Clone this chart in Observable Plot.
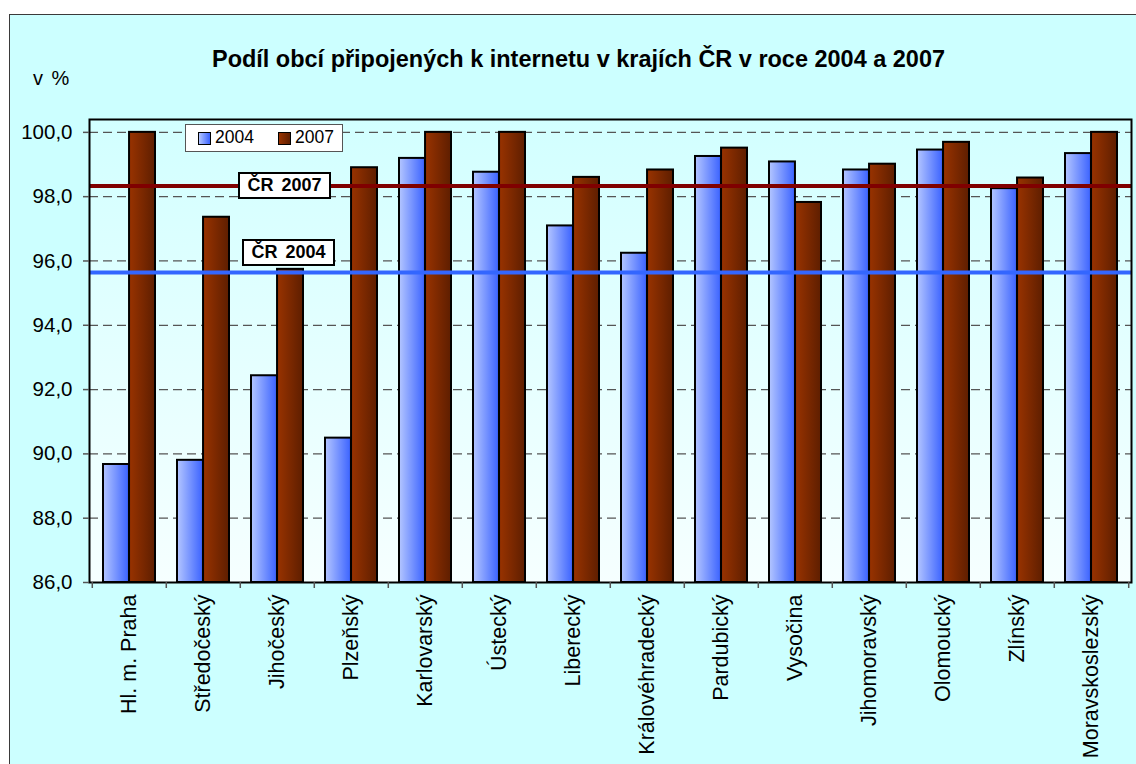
<!DOCTYPE html>
<html>
<head>
<meta charset="utf-8">
<script src="https://cdn.jsdelivr.net/npm/d3@7"></script>
<script src="https://cdn.jsdelivr.net/npm/@observablehq/plot@0.6"></script>
<style>
  body { margin: 0; background: #fff; font-family: "Liberation Sans", Arial, sans-serif; }
  #wrap { position: relative; width: 1136px; height: 764px; overflow: hidden; background: #fff; }
  #panel { position: absolute; left: 9px; top: 14px; width: 1150px; height: 770px; background: #ccffff; border: 1.5px solid #3a3a3a; box-sizing: border-box; }
  #chart { position: absolute; left: 0; top: 0; }
  .ov { position: absolute; white-space: nowrap; color: #000; }
  #title { left: 0; width: 1157px; top: 46px; text-align: center; font-weight: bold; font-size: 19px; }
  #unit { left: 33px; top: 67px; font-size: 20px; word-spacing: 3px; }
  #legend { left: 185px; top: 124px; width: 158px; height: 28px; background: #fff; border: 1px solid #555; box-sizing: border-box; }
  .sw { position: absolute; width: 13px; height: 13px; border: 1.5px solid #000; box-sizing: border-box; }
  .lt { position: absolute; font-size: 17.5px; top: 2px; }
  .ref { position: absolute; background: #fff; border: 2px solid #000; box-sizing: border-box; font-weight: bold; font-size: 18px; text-align: center; width: 93px; height: 27px; line-height: 23px; word-spacing: 3px; }
</style>
</head>
<body>
<div id="wrap">
  <div id="panel"></div>
  <div id="chart"></div>
  <div id="title" class="ov">Podíl obcí připojených k internetu v krajích ČR v roce 2004 a 2007</div>
  <div id="unit" class="ov">v %</div>
</div>
<script>
// ---- data ----
const regions = ["Hl. m. Praha", "Středočeský", "Jihočeský", "Plzeňský", "Karlovarský", "Ústecký", "Liberecký", "Královéhradecký", "Pardubický", "Vysočina", "Jihomoravský", "Olomoucký", "Zlínský", "Moravskoslezský"];
const v2004 = [89.67, 89.80, 92.43, 90.49, 99.19, 98.76, 97.09, 96.24, 99.25, 99.08, 98.83, 99.45, 98.25, 99.34];
const v2007 = [100.0, 97.36, 95.74, 98.90, 100.0, 100.0, 98.60, 98.83, 99.51, 97.82, 99.01, 99.69, 98.58, 100.0];
const years = ["2004", "2007"];
const refLabels = ["ČR 2004", "ČR 2007"];
const refValues = [95.64, 98.33];
const yTicks = [86, 88, 90, 92, 94, 96, 98, 100];
const yMin = 86, yMax = 100.4;

const data = regions.map((r, i) => ({region: r, v2004: v2004[i], v2007: v2007[i]}));

const W = 1136, H = 764, mL = 89, mR = 5, mT = 119, mB = 182;
const step = (W - mL - mR) / regions.length;
const fmt = d => d.toFixed(1).replace(".", ",");

const chart = Plot.plot({
  width: W, height: H,
  marginLeft: mL, marginRight: mR, marginTop: mT, marginBottom: mB,
  style: {background: "transparent", fontFamily: "'Liberation Sans', Arial, sans-serif", color: "#000", overflow: "visible"},
  x: {domain: regions, paddingInner: 0.3, paddingOuter: 0.15, label: null},
  y: {domain: [yMin, yMax], label: null},
  marks: [
    Plot.frame({fill: "url(#bgGrad)", stroke: null}),
    Plot.gridY(yTicks.filter(t => t > yMin), {stroke: "#555", strokeOpacity: 1, strokeDasharray: "9,5", strokeWidth: 1.2}),
    Plot.barY(data, {x: "region", y1: yMin, y2: "v2004", insetRight: step * 0.35, fill: "url(#g2004)", stroke: "#000", strokeWidth: 2}),
    Plot.barY(data, {x: "region", y1: yMin, y2: "v2007", insetLeft: step * 0.35, fill: "url(#g2007)", stroke: "#000", strokeWidth: 2}),
    Plot.ruleY([refValues[1]], {stroke: "#800000", strokeWidth: 4}),
    Plot.ruleY([refValues[0]], {stroke: "#3366ff", strokeWidth: 4}),
    Plot.frame({stroke: "#000", strokeWidth: 2}),
    Plot.ruleX(regions, {x: d => d, y1: yMin, y2: yMin, insetBottom: -6, dx: -step / 2, stroke: "#555", strokeWidth: 1.5}),
    Plot.ruleX(regions.slice(-1), {x: d => d, y1: yMin, y2: yMin, insetBottom: -6, dx: step / 2, stroke: "#555", strokeWidth: 1.5}),
    Plot.axisY({ticks: yTicks, tickSize: 6, tickPadding: 11, tickFormat: fmt, fontSize: 20.5, stroke: "#555", strokeWidth: 1.5}),
    Plot.axisX({tickSize: 0, tickPadding: 12, tickRotate: -90, fontSize: 21.5, label: null})
  ]
});

d3.select(chart).insert("defs", ":first-child").html(`
  <linearGradient id="g2004" x1="0" x2="1" y1="0" y2="0">
    <stop offset="0" stop-color="#b4c6ff"/><stop offset="1" stop-color="#3a62ff"/>
  </linearGradient>
  <linearGradient id="g2007" x1="0" x2="1" y1="0" y2="0">
    <stop offset="0" stop-color="#993300"/><stop offset="1" stop-color="#5e1e00"/>
  </linearGradient>
  <linearGradient id="bgGrad" x1="0" x2="0" y1="0" y2="1">
    <stop offset="0" stop-color="#d2ffff"/><stop offset="1" stop-color="#f6ffff"/>
  </linearGradient>
`);
document.getElementById("chart").appendChild(chart);

const wrap = document.getElementById("wrap");
const y = chart.scale("y");

// legend
const legend = document.createElement("div");
legend.id = "legend"; legend.className = "ov";
const swX = [12, 92], txX = [29, 109];
years.forEach((yr, i) => {
  const sw = document.createElement("div");
  sw.className = "sw";
  sw.style.left = swX[i] + "px"; sw.style.top = "7px";
  sw.style.background = i === 0 ? "linear-gradient(to right,#b4c6ff,#3a62ff)" : "linear-gradient(to right,#993300,#5e1e00)";
  legend.appendChild(sw);
  const t = document.createElement("div");
  t.className = "lt"; t.style.left = txX[i] + "px"; t.textContent = yr;
  legend.appendChild(t);
});
wrap.appendChild(legend);

// reference labels
const refLeft = [242, 238];
const refOffset = [-20, 0];
refLabels.forEach((lab, i) => {
  const d = document.createElement("div");
  d.className = "ov ref";
  d.textContent = lab;
  d.style.left = refLeft[i] + "px";
  d.style.top = (y.apply(refValues[i]) + refOffset[i] - 13.5) + "px";
  wrap.appendChild(d);
});

// fit title width
const title = document.getElementById("title");
const ctx = document.createElement("canvas").getContext("2d");
ctx.font = "bold 19px 'Liberation Sans'";
const w = ctx.measureText(title.textContent).width;
title.style.fontSize = (19 * 733 / w).toFixed(2) + "px";
</script>
</body>
</html>
